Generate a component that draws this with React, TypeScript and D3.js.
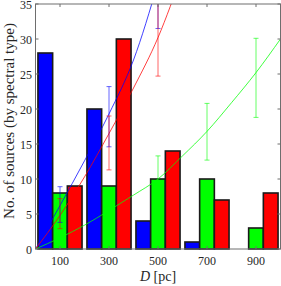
import * as d3 from "d3";

// distance bins (pc) and counts by spectral type
const distances = [100, 300, 500, 700, 900];
const blueCounts = [28, 20, 4, 1, 0];
const greenCounts = [8, 9, 10, 10, 3];
const redCounts = [9, 30, 14, 7, 8];

// model curves
const blueModelD = [0, 100, 200, 300, 400, 500];
const blueModel = [0, 6.2, 12.6, 19.3, 27, 38];
const redModelD = [0, 100, 200, 300, 400, 500, 600];
const redModel = [0, 4.8, 10.3, 16.5, 23, 30.2, 39.5];
const greenModelD = [0, 100, 200, 300, 400, 500, 600, 700, 800, 900, 1000];
const greenModel = [0, 1.6, 3.4, 5.5, 7.7, 10, 13.3, 16.8, 20.9, 25.2, 30];

// error bars
const blueErrD = [100, 300, 500];
const blueErrLo = [3.8, 14.6, 31.5];
const blueErrHi = [8.9, 23.2, 44];
const redErrD = [100, 300, 500];
const redErrLo = [2.9, 11.3, 24.7];
const redErrHi = [7.2, 19.0, 35.6];
const greenErrD = [100, 300, 500, 700, 900];
const greenErrLo = [0.5, 3.3, 6.7, 12.7, 18.8];
const greenErrHi = [3.4, 7.9, 13.3, 20.8, 30.1];

const xTicks = [100, 300, 500, 700, 900];
const yTicks = [0, 5, 10, 15, 20, 25, 30, 35];

const W = 281;
const H = 286;
const BLUE = "#0000ff";
const GREEN = "#00ff00";
const RED = "#ff0000";
const AXIS = "#6e6e6e";
const FONT = "Liberation Serif";

export default function App() {
  const x = d3.scaleLinear().domain([0, 1000]).range([35.5, 280.5]);
  const y = d3.scaleLinear().domain([0, 35]).range([249, 4]);
  const barW = 60; // bar width in D units

  const line = d3
    .line<[number, number]>()
    .x((d) => x(d[0]))
    .y((d) => y(d[1]))
    .curve(d3.curveMonotoneX);

  const series = [
    { counts: blueCounts, off: -barW, color: BLUE },
    { counts: greenCounts, off: 0, color: GREEN },
    { counts: redCounts, off: barW, color: RED },
  ];

  const models = [
    { d: blueModelD, v: blueModel, color: BLUE },
    { d: redModelD, v: redModel, color: RED },
    { d: greenModelD, v: greenModel, color: GREEN },
  ];

  const errs = [
    { d: greenErrD, lo: greenErrLo, hi: greenErrHi, color: GREEN },
    { d: blueErrD, lo: blueErrLo, hi: blueErrHi, color: BLUE },
    { d: redErrD, lo: redErrLo, hi: redErrHi, color: RED },
  ];

  const [x0, x1] = x.range();
  const [yb, yt] = y.range();
  const tick = 3;
  const txt = (size: number) => ({ fontFamily: FONT, fontSize: size + "px" });

  return (
    <svg
      width={W}
      height={H}
      style={{ position: "absolute", left: 0, top: 0, background: "#fff" }}
    >
      <defs>
        <clipPath id="plot">
          <rect x={x0} y={yt} width={x1 - x0} height={yb - yt} />
        </clipPath>
      </defs>

      {/* bars */}
      <g>
        {series.map((s, si) =>
          s.counts.map((c, i) => (
            <rect
              key={si + "-" + i}
              x={x(distances[i] + s.off - barW / 2)}
              y={y(c)}
              width={x(barW) - x(0)}
              height={y(0) - y(c)}
              fill={s.color}
              stroke="#1a1a1a"
              strokeWidth={1.6}
            />
          ))
        )}
      </g>

      {/* model curves + error bars */}
      <g clipPath="url(#plot)">
        {models.map((m, mi) => (
          <path
            key={mi}
            d={line(m.d.map((d, i) => [d, m.v[i]] as [number, number])) || ""}
            fill="none"
            stroke={m.color}
            strokeOpacity={0.75}
            strokeWidth={1}
          />
        ))}
        {errs.map((e, ei) =>
          e.d.map((d, i) => (
            <g key={ei + "-" + i} stroke={e.color} strokeOpacity={0.6} strokeWidth={1}>
              <line x1={x(d)} x2={x(d)} y1={y(e.lo[i])} y2={y(e.hi[i])} />
              <line x1={x(d) - 2.5} x2={x(d) + 2.5} y1={y(e.lo[i])} y2={y(e.lo[i])} />
              <line x1={x(d) - 2.5} x2={x(d) + 2.5} y1={y(e.hi[i])} y2={y(e.hi[i])} />
            </g>
          ))
        )}
      </g>

      {/* axes box and ticks */}
      <g stroke={AXIS} strokeWidth={1} fill="none">
        <rect x={x0} y={yt} width={x1 - x0} height={yb - yt} />
        {xTicks.map((t) => (
          <g key={"xt" + t}>
            <line x1={x(t)} x2={x(t)} y1={yb} y2={yb - tick} />
            <line x1={x(t)} x2={x(t)} y1={yt} y2={yt + tick} />
          </g>
        ))}
        {yTicks.map((t) => (
          <g key={"yt" + t}>
            <line x1={x0} x2={x0 + tick} y1={y(t)} y2={y(t)} />
            <line x1={x1} x2={x1 - tick} y1={y(t)} y2={y(t)} />
          </g>
        ))}
      </g>

      {/* tick labels */}
      {xTicks.map((t) => (
        <text key={"xl" + t} x={x(t)} y={265} textAnchor="middle" fill="#262626" style={txt(12)}>
          {t}
        </text>
      ))}
      {yTicks.map((t) => (
        <text key={"yl" + t} x={32} y={y(t) + 4.5} textAnchor="end" fill="#262626" style={txt(12)}>
          {t}
        </text>
      ))}

      {/* axis labels */}
      <text x={158} y={281} textAnchor="middle" fill="#262626" style={txt(14)}>
        <tspan fontStyle="italic">D</tspan> [pc]
      </text>
      <text
        transform="translate(14,121) rotate(-90)"
        textAnchor="middle"
        fill="#262626"
        style={txt(15)}
      >
        No. of sources (by spectral type)
      </text>
    </svg>
  );
}
